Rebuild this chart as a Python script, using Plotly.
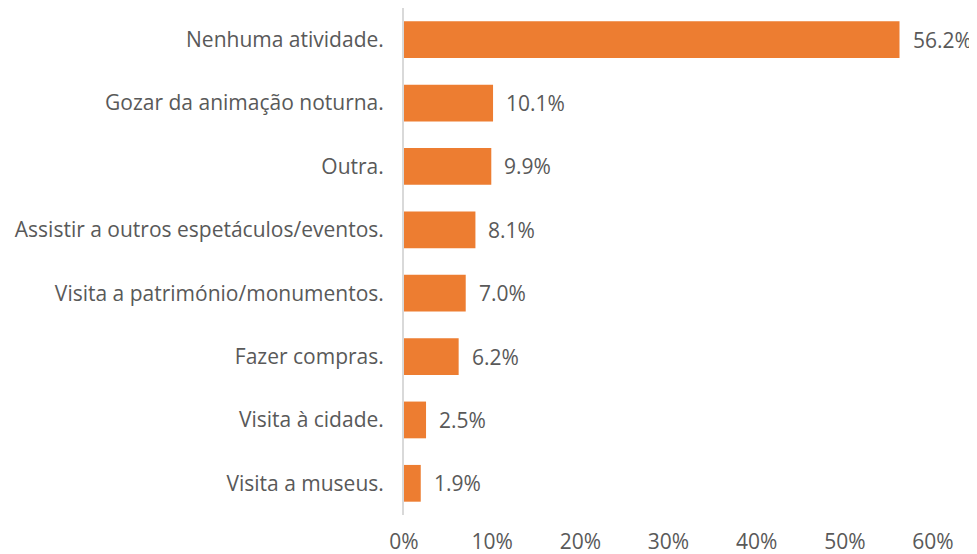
import plotly.graph_objects as go

categories = [
    "Nenhuma atividade.",
    "Gozar da animação noturna.",
    "Outra.",
    "Assistir a outros espetáculos/eventos.",
    "Visita a património/monumentos.",
    "Fazer compras.",
    "Visita à cidade.",
    "Visita a museus.",
]
values = [0.562, 0.101, 0.099, 0.081, 0.070, 0.062, 0.025, 0.019]
tick_vals = [0, 0.1, 0.2, 0.3, 0.4, 0.5, 0.6]
tick_text = ["0%", "10%", "20%", "30%", "40%", "50%", "60%"]

FONT = "'Open Sans', sans-serif"
GREY = "#595959"

fig = go.Figure(
    go.Bar(
        x=values,
        y=categories,
        orientation="h",
        marker=dict(color="#ED7D31", line=dict(width=0)),
        hoverinfo="skip",
    )
)

# value labels to the right of each bar
for cat, val in zip(categories, values):
    fig.add_annotation(
        x=val, y=cat, text=f"{val * 100:.1f}%",
        showarrow=False, xanchor="left", xshift=11,
        font=dict(family=FONT, size=21, color=GREY),
    )

# the page body adds an 8px margin, so the figure is sized to fit after it
fig.update_layout(
    width=969, height=546,
    margin=dict(l=396, r=44, t=0, b=39),
    plot_bgcolor="white", paper_bgcolor="white",
    bargap=0.42,
    showlegend=False,
    font=dict(family=FONT, size=21, color=GREY),
    xaxis=dict(
        range=[0, 0.6],
        tickvals=tick_vals, ticktext=tick_text,
        showgrid=False, zeroline=False, showline=False,
        ticks="outside", ticklen=8, tickcolor="rgba(0,0,0,0)",
        automargin=False,
    ),
    yaxis=dict(
        categoryorder="array", categoryarray=categories[::-1],
        showgrid=False, zeroline=False,
        showline=True, linecolor="#d9d9d9", linewidth=2,
        ticks="outside", ticklen=14, tickcolor="rgba(0,0,0,0)",
        automargin=False,
    ),
)

fig.write_html("out.html")
